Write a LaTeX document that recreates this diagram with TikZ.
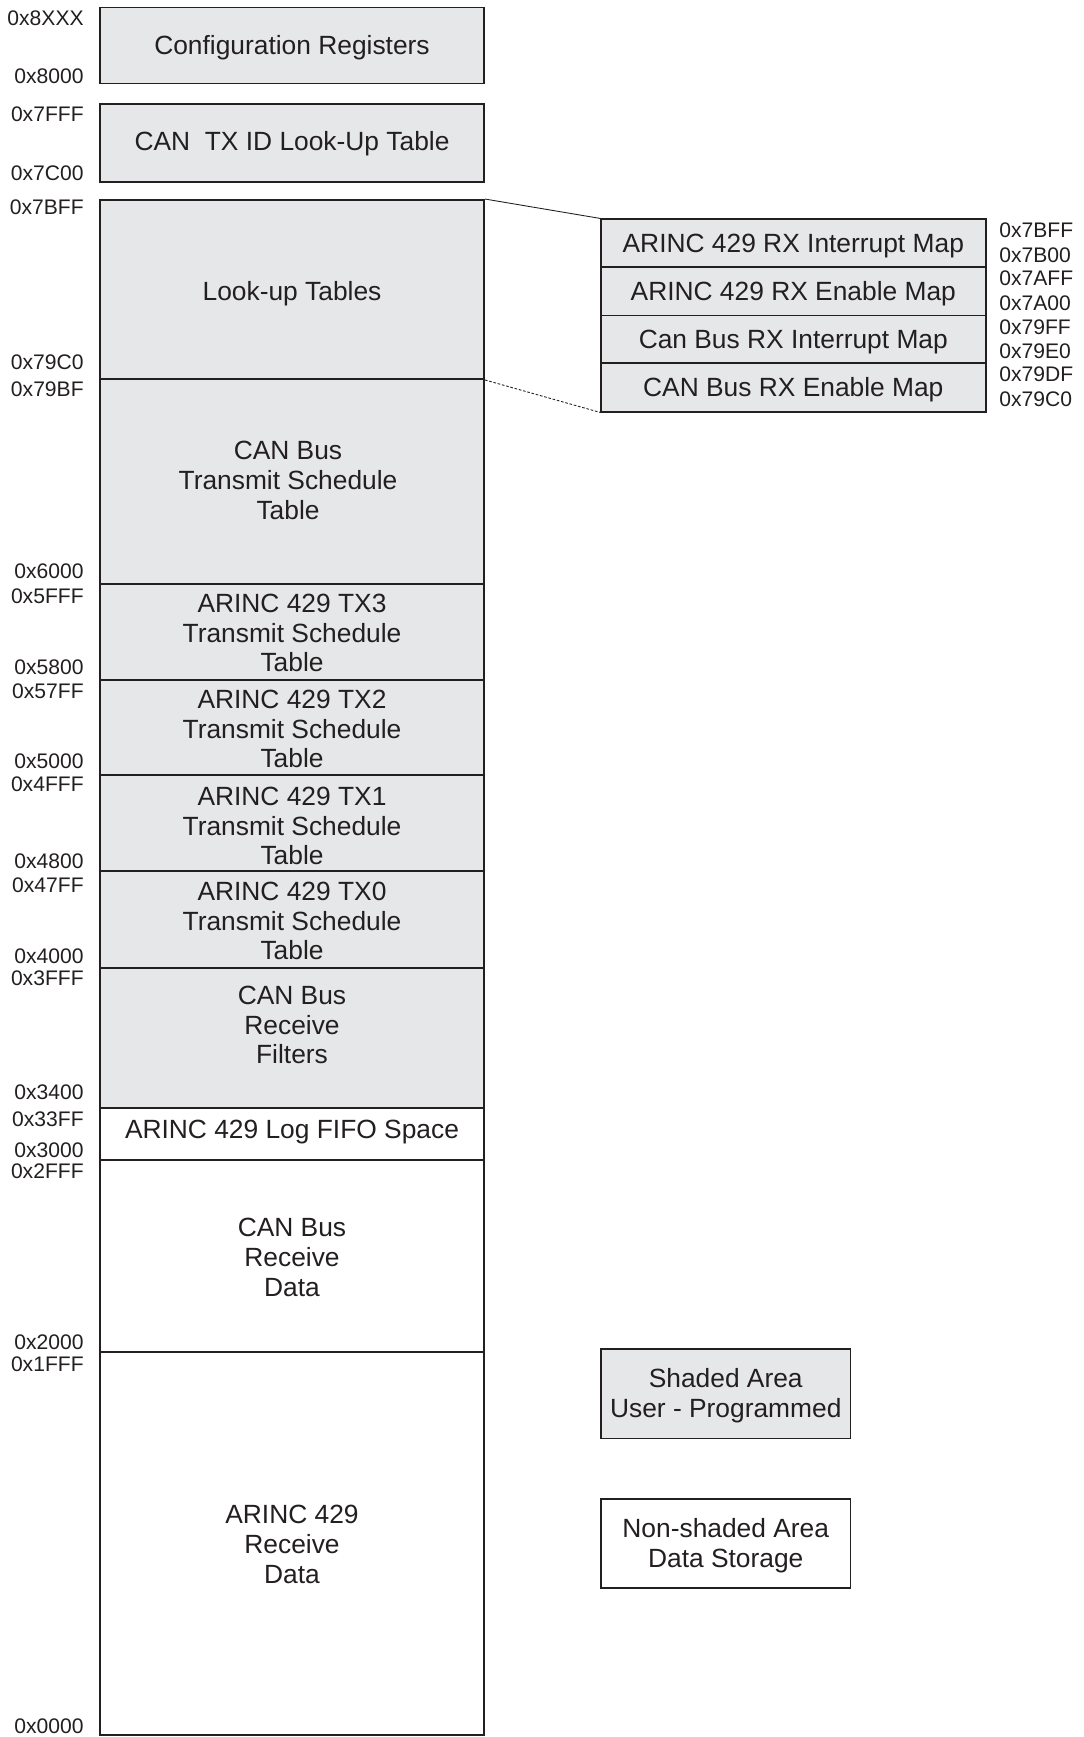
\documentclass[tikz,border=0pt]{standalone}
\usepackage{fontspec}
\setmainfont{Liberation Sans}
\usetikzlibrary{fit}

\definecolor{shade}{RGB}{230,231,232}
\definecolor{ink}{RGB}{35,31,32}

\tikzset{
  membox/.style={draw=ink, fill=shade, inner sep=0pt, line width=1.1pt},
  rawbox/.style={draw=ink, fill=white, inner sep=0pt, line width=1.1pt},
  rowbox/.style={draw=ink, fill=shade, inner sep=0pt, line width=0.6pt},
  txt/.style={text=ink, font=\fontsize{15}{17}\selectfont, align=center, inner sep=0pt},
  addr/.style={text=ink, font=\fontsize{12}{14}\selectfont, inner sep=0pt}
}

\begin{document}
\begin{tikzpicture}[x=0.02cm, y=-0.02cm]
  \useasboundingbox (0,0) rectangle (1083,1737);

  % memory column
  \node[membox, fit={(100,7.5) (484,83.5)}] (cfg) {};
  \node[membox, fit={(100,104) (484,182)}] (txid) {};
  \node[membox, fit={(100,200) (484,379)}] (lut) {};
  \node[membox, fit={(100,379) (484,584)}] (cts) {};
  \node[membox, fit={(100,584) (484,680)}] (tx3) {};
  \node[membox, fit={(100,680) (484,775)}] (tx2) {};
  \node[membox, fit={(100,775) (484,871)}] (tx1) {};
  \node[membox, fit={(100,871) (484,968)}] (tx0) {};
  \node[membox, fit={(100,968) (484,1108)}] (flt) {};
  \node[rawbox, fit={(100,1108) (484,1160)}] (fifo) {};
  \node[rawbox, fit={(100,1160) (484,1352)}] (crx) {};
  \node[rawbox, fit={(100,1352) (484,1735)}] (arx) {};

  \node[txt] (cfgt) at (292,47.5) {Configuration Registers};
  \node[txt] (txidt) at (292,144) {CAN\ \ TX ID Look-Up Table};
  \node[txt] (lutt) at (292,293.5) {Look-up Tables};
  \node[txt] (ctst) at (288,480.5) {CAN Bus\\Transmit Schedule\\Table};
  \node[txt] (tx3t) at (292,633) {ARINC 429 TX3\\Transmit Schedule\\Table};
  \node[txt] (tx2t) at (292,729) {ARINC 429 TX2\\Transmit Schedule\\Table};
  \node[txt] (tx1t) at (292,826) {ARINC 429 TX1\\Transmit Schedule\\Table};
  \node[txt] (tx0t) at (292,921) {ARINC 429 TX0\\Transmit Schedule\\Table};
  \node[txt] (fltt) at (292,1025) {CAN Bus\\Receive\\Filters};
  \node[txt] (fifot) at (292,1132.5) {ARINC 429 Log FIFO Space};
  \node[txt] (crxt) at (292,1257.5) {CAN Bus\\Receive\\Data};
  \node[txt] (arxt) at (292,1544.5) {ARINC 429\\Receive\\Data};

  % addresses
  \foreach \y/\a in {18/0x8XXX, 76/0x8000, 114/0x7FFF, 173/0x7C00, 207/0x7BFF,
      362/0x79C0, 389/0x79BF, 571/0x6000, 596/0x5FFF, 667/0x5800, 691/0x57FF,
      761/0x5000, 784/0x4FFF, 861/0x4800, 885/0x47FF, 956/0x4000, 978/0x3FFF,
      1092/0x3400, 1119/0x33FF, 1150/0x3000, 1171/0x2FFF, 1342/0x2000,
      1364/0x1FFF, 1726/0x0000}
    \node[addr, anchor=east] (a\y) at (84,\y) {\a};

  % look-up table detail
  \node[rowbox, fit={(601,219) (985.6,267)}] (m1) {};
  \node[rowbox, fit={(601,267) (985.6,315.6)}] (m2) {};
  \node[rowbox, fit={(601,315.6) (985.6,363)}] (m3) {};
  \node[rowbox, fit={(601,363) (985.6,412)}] (m4) {};
  \draw[ink, line width=1.1pt] (m1.north west) rectangle (m4.south east);
  \node[txt, yshift=-1.5pt] (m1t) at (m1) {ARINC 429 RX Interrupt Map};
  \node[txt, yshift=-1.5pt] (m2t) at (m2) {ARINC 429 RX Enable Map};
  \node[txt, yshift=-1.5pt] (m3t) at (m3) {Can Bus RX Interrupt Map};
  \node[txt, yshift=-1.5pt] (m4t) at (m4) {CAN Bus RX Enable Map};

  \foreach \y/\a in {230/0x7BFF, 255/0x7B00, 278/0x7AFF, 303/0x7A00,
      327/0x79FF, 351/0x79E0, 374/0x79DF, 399/0x79C0}
    \node[addr, anchor=west] (b\y) at (999,\y) {\a};

  \draw[ink, line width=0.5pt] (lut.north east) -- (m1.north west);
  \draw[ink, line width=0.5pt, dash pattern=on 1.5pt off 1pt] (lut.south east) -- (m4.south west);

  % legend
  \node[membox, fit={(601,1349) (850.5,1438.5)}, label={[txt, yshift=-1.2pt]center:Shaded Area\\User - Programmed}] (shd) {};
  \node[rawbox, fit={(601,1499) (850.5,1588)}, label={[txt, yshift=-1.2pt]center:Non-shaded Area\\Data Storage}] (nsh) {};
\end{tikzpicture}
\end{document}
